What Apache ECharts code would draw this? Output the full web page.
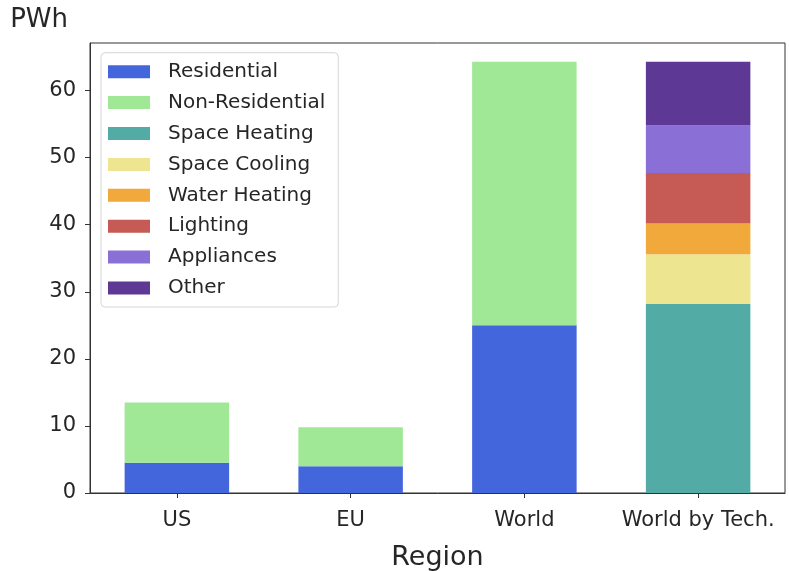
<!DOCTYPE html>
<html>
<head>
<meta charset="utf-8">
<script src="https://cdn.jsdelivr.net/npm/echarts@6/dist/echarts.min.js"></script>
<style>html,body{margin:0;padding:0;background:#fff;}#chart{width:789px;height:571px;}</style>
</head>
<body>
<div id="chart"></div>
<script>
// Data
var regions = ['US', 'EU', 'World', 'World by Tech.'];
var yTicks = [0, 10, 20, 30, 40, 50, 60];
var residential    = [4.5, 4.0, 25.0, null];
var nonResidential = [9.0, 5.8, 39.3, null];
var spaceHeating   = [null, null, null, 28.2];
var spaceCooling   = [null, null, null, 7.4];
var waterHeating   = [null, null, null, 4.6];
var lighting       = [null, null, null, 7.5];
var appliances     = [null, null, null, 7.1];
var other          = [null, null, null, 9.5];

var seriesNames  = ['Residential', 'Non-Residential', 'Space Heating', 'Space Cooling', 'Water Heating', 'Lighting', 'Appliances', 'Other'];
var seriesValues = [residential, nonResidential, spaceHeating, spaceCooling, waterHeating, lighting, appliances, other];
var seriesColors = ['#4466dd', '#a0e896', '#52aca5', '#ede590', '#f2a93b', '#c65b55', '#8a70d6', '#5e3895'];

var FONT = 'DejaVu Sans';
var chart = echarts.init(document.getElementById('chart'), null, {renderer: 'canvas'});

var series = seriesNames.map(function (name, i) {
  return {
    name: name,
    type: 'bar',
    stack: 'total',
    barWidth: 104.5,
    itemStyle: {color: seriesColors[i]},
    data: seriesValues[i].map(function (v) { return v === null ? '-' : v; })
  };
});

chart.setOption({
  animation: false,
  backgroundColor: '#ffffff',
  grid: {left: 90, right: 4, top: 43, bottom: 78, containLabel: false, outerBoundsMode: 'none',
    show: true, borderColor: '#333', borderWidth: 1, backgroundColor: 'transparent'},
  legend: {
    orient: 'vertical',
    left: 101, top: 52.7,
    icon: 'rect',
    itemWidth: 42, itemHeight: 13, itemGap: 10.9,
    padding: [9, 13, 9, 7],
    backgroundColor: '#ffffff',
    borderColor: '#d6d6d6', borderWidth: 1, borderRadius: 4,
    textStyle: {fontFamily: FONT, fontSize: 20, color: '#262626', lineHeight: 20, padding: [0, 0, 0, 13]},
    data: seriesNames
  },
  xAxis: {
    type: 'category',
    data: regions,
    name: 'Region',
    nameLocation: 'middle',
    nameGap: 51,
    nameTextStyle: {fontFamily: FONT, fontSize: 27, color: '#262626'},
    axisLine: {show: true, lineStyle: {color: '#333', width: 1}},
    axisTick: {show: true, alignWithLabel: true, length: 5, lineStyle: {color: '#333'}},
    axisLabel: {fontFamily: FONT, fontSize: 21, color: '#262626', margin: 17, interval: 0},
    splitLine: {show: false}
  },
  yAxis: {
    type: 'value',
    min: 0, max: 67.1,
    name: 'PWh',
    nameLocation: 'end',
    nameGap: 10,
    nameTextStyle: {fontFamily: FONT, fontSize: 26, color: '#262626', align: 'right', padding: [0, 22, 0, 0]},
    axisLine: {show: true, onZero: false, lineStyle: {color: '#333', width: 1}},
    axisTick: {show: true, length: 5, lineStyle: {color: '#333'}, customValues: yTicks},
    axisLabel: {fontFamily: FONT, fontSize: 21, color: '#262626', margin: 14, customValues: yTicks},
    splitLine: {show: false}
  },
  series: series
});
</script>
</body>
</html>
